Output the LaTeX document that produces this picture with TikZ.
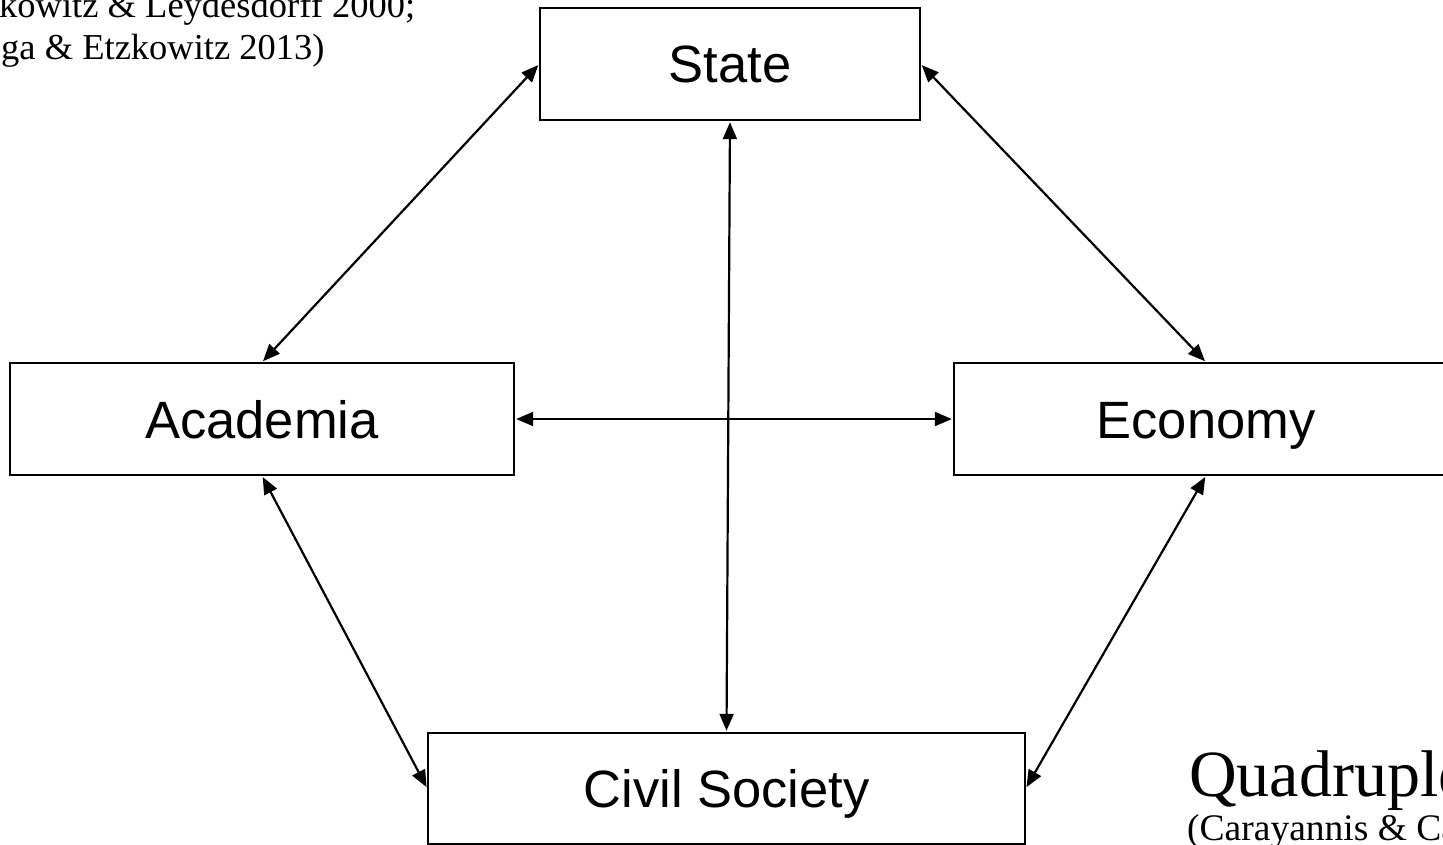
\documentclass[tikz,border=0pt]{standalone}
\usepackage{fontspec}
\setmainfont{Liberation Serif}
\newfontfamily\arialfont{Liberation Sans}
\usetikzlibrary{arrows.meta}
\begin{document}
\begin{tikzpicture}[x=1pt,y=-1pt,
  box/.style={draw=black, line width=1.4pt, fill=white, inner sep=0pt,
    text height=38pt, text depth=0pt,
    minimum height=112pt, font=\arialfont\fontsize{52.5}{60}\selectfont},
  link/.style={line width=2.2pt, {Triangle[length=17pt,width=14pt]}-{Triangle[length=17pt,width=14pt]}, shorten <=1.5pt, shorten >=1.5pt},
  cite/.style={inner sep=0pt, anchor=base west, font=\fontsize{36.5}{42}\selectfont},
]
\useasboundingbox (0,0) rectangle (1443,845);
\node[box, minimum width=380pt] (state) at (730,64) {State};
\node[box, minimum width=504pt] (acad) at (262,419) {Academia};
\node[box, minimum width=504pt] (econ) at (1206,419) {Economy};
\node[box, minimum width=597pt, minimum height=111pt] (civil) at (726.5,788.5) {Civil Society};

\draw[link] (state.west) -- (acad.north);
\draw[link] (state.east) -- (econ.north);
\draw[link] (state.south) -- (civil.north);
\draw[link] (acad.east) -- (econ.west);
\draw[link] (acad.south) -- (civil.west);
\draw[link] (econ.south) -- (civil.east);

\node[cite] (ref1) at (-1,17.5) {kowitz \& Leydesdorff 2000;};
\node[cite] (ref2) at (1,59.5) {ga \& Etzkowitz 2013)};
\node[cite, font=\fontsize{66}{74}\selectfont] (quad) at (1189,796) {Quadruple};
\node[cite, font=\fontsize{37.5}{42}\selectfont] (ref3) at (1187,840) {(Carayannis \& Ca};
\end{tikzpicture}
\end{document}
